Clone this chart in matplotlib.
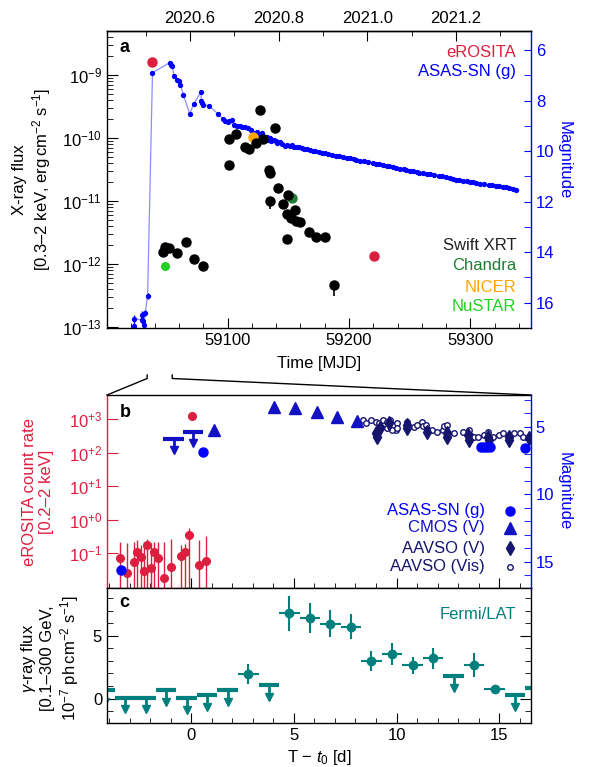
import numpy as np
import matplotlib.pyplot as plt
from matplotlib.lines import Line2D
from matplotlib.ticker import (MultipleLocator, FixedLocator, NullLocator,
                               LogLocator, NullFormatter, FormatStrFormatter)

plt.rcParams['font.family'] = ['Liberation Sans', 'DejaVu Sans']
plt.rcParams['mathtext.fontset'] = 'custom'
plt.rcParams['mathtext.rm'] = 'Liberation Sans'
plt.rcParams['mathtext.it'] = 'Liberation Sans:italic'
plt.rcParams['mathtext.bf'] = 'Liberation Sans:bold'
plt.rcParams['font.size'] = 12
plt.rcParams['axes.linewidth'] = 1.0

RED = '#dc1f3f'
BLUE = '#0000ff'
CMOS_C = '#1212c4'
NAVY = '#15156e'
TEAL = '#007f7f'
DARK = '#222222'

# ---------------- panel a data ----------------
swift_mjd = [59046.7, 59048.7, 59051.4, 59058.6, 59065.4, 59072.6, 59079.7,
             59101.0, 59101.0, 59107.0, 59114.5, 59117.5, 59123.6, 59126.3,
             59129.0, 59134.0, 59135.0, 59135.0, 59139.0, 59141.4, 59145.8,
             59148.8, 59149.0, 59149.6, 59152.4, 59155.7, 59156.5, 59160.0,
             59166.7, 59173.0, 59180.4, 59187.5]
swift_flux = [1.55e-12, 1.84e-12, 1.80e-12, 1.50e-12, 2.2e-12, 1.18e-12, 9.3e-13,
              9.6e-11, 3.7e-11, 1.17e-10, 7.1e-11, 6.6e-11, 8.2e-11, 2.75e-10,
              9.6e-11, 3.1e-11, 2.8e-11, 1.0e-11, 1.46e-10, 1.58e-11, 8.9e-12,
              2.5e-12, 6.3e-12, 1.26e-11, 5.3e-12, 7.1e-12, 4.8e-12, 4.6e-12,
              3.25e-12, 2.7e-12, 2.65e-12, 4.6e-13]
swift_err_lo = [0, 0, 0, 0, 0, 0, 0, 0, 0, 0, 0, 0, 0, 0, 0, 0, 0, 2.6e-12,
                0, 0, 0, 0, 0, 0, 0, 0, 0, 0, 0, 0, 0, 1.5e-13]

chandra_mjd, chandra_flux = [59153.0], [1.12e-11]
nicer_mjd, nicer_flux = [59121.0], [1.02e-10]
nustar_mjd, nustar_flux = [59048.0], [9.3e-13]
erosita_mjd, erosita_flux = [59038.0, 59220.4], [1.63e-9, 1.32e-12]

asas_pre_mjd = [59023.0, 59023.0, 59029.0, 59029.2, 59030.3, 59031.0, 59032.0, 59034.0]
asas_pre_mag = [16.94, 16.65, 16.67, 16.47, 16.74, 16.87, 16.41, 15.72]
asas_pre_err = [0.15, 0.15, 0.15, 0.15, 0.12, 0.12, 0.12, 0.12]

asas_mjd = [59038.0, 59052.3, 59053.0, 59054.0, 59056.0, 59058.5, 59059.5, 59061.0,
            59063.5, 59068.7, 59072.0, 59078.0, 59078.2, 59079.0, 59080.0, 59084.6,
            59092.0, 59096.0, 59098.0, 59100.0, 59101.0, 59103.5, 59105.0, 59107.7,
            59110.0, 59112.0, 59114.0, 59117.0, 59119.5, 59122.0, 59124.0, 59126.0,
            59128.0, 59130.0, 59132.0, 59133.0, 59135.0, 59136.0, 59138.0, 59140.0,
            59141.0, 59143.0, 59145.0, 59147.0, 59149.0, 59151.0, 59153.0, 59155.0,
            59157.0, 59159.0, 59161.0, 59163.0, 59165.0, 59168.0, 59170.0, 59172.0,
            59175.0, 59178.0, 59180.0, 59183.0, 59186.0, 59189.0, 59192.0, 59195.0,
            59198.0, 59201.0, 59204.0, 59206.0, 59209.0, 59212.0, 59216.0, 59219.6,
            59222.0, 59225.0, 59228.0, 59231.0, 59233.0, 59236.0, 59239.0, 59242.0,
            59245.0, 59247.0, 59250.0, 59253.0, 59256.0, 59258.0, 59260.7, 59264.0,
            59267.0, 59270.0, 59274.5, 59277.0, 59280.0, 59283.0, 59286.0, 59288.0,
            59291.0, 59294.0, 59297.0, 59300.0, 59302.0, 59305.0, 59308.0, 59311.0,
            59315.6, 59318.0, 59321.0, 59324.0, 59327.0, 59329.0, 59332.0, 59335.0,
            59337.6]
asas_mag = [6.90, 6.50, 6.58, 6.63, 7.03, 7.18, 7.24, 7.38,
            7.78, 8.53, 8.13, 7.66, 8.00, 8.10, 8.17, 8.21,
            8.53, 8.72, 8.80, 8.86, 8.82, 8.77, 8.95, 9.00,
            9.02, 9.05, 9.06, 9.10, 9.16, 9.28, 9.24, 9.32,
            9.30, 9.45, 9.43, 9.55, 9.50, 9.60, 9.55, 9.62,
            9.70, 9.66, 9.72, 9.78, 9.75, 9.79, 9.76, 9.85,
            9.83, 9.82, 9.86, 9.90, 9.92, 9.97, 10.00, 9.99,
            10.03, 10.06, 10.07, 10.11, 10.15, 10.18, 10.21, 10.24,
            10.27, 10.29, 10.32, 10.35, 10.38, 10.40, 10.44, 10.48,
            10.50, 10.52, 10.57, 10.59, 10.61, 10.63, 10.66, 10.69,
            10.71, 10.74, 10.77, 10.79, 10.82, 10.85, 10.87, 10.89,
            10.91, 10.94, 10.98, 11.00, 11.04, 11.07, 11.10, 11.14,
            11.15, 11.18, 11.20, 11.22, 11.24, 11.27, 11.29, 11.31,
            11.34, 11.36, 11.38, 11.40, 11.42, 11.43, 11.47, 11.52,
            11.56]

# ---------------- panel b data ----------------
t0_mjd = 59037.7
ero_t = [-3.46, -3.13, -2.78, -2.65, -2.44, -2.29, -2.13, -1.95, -1.80, -1.62,
         -1.30, -0.97, -0.49, -0.28, -0.13, 0.36, 0.70]
ero_rate = [0.074, 0.025, 0.056, 0.107, 0.079, 0.030, 0.17, 0.036, 0.11, 0.074,
            0.018, 0.038, 0.083, 0.105, 0.355, 0.043, 0.059]
ero_top = [0.22, 0.20, 0.21, 0.24, 0.18, 0.22, 0.26, 0.20, 0.21, 0.22,
           0.22, 0.26, 0.18, 0.19, 0.55, 0.25, 0.32]
ero_flash_t, ero_flash_rate = [0.03], [1260.0]

asas_b_t = [-3.43, 0.57, 14.10, 14.25, 14.40, 14.55, 16.24]
asas_b_mag = [15.6, 6.85, 6.52, 6.50, 6.50, 6.52, 6.55]
asas_ul_t = [-0.86, 0.08]
asas_ul_mag = [5.91, 5.37]

cmos_t = [1.12, 4.04, 5.05, 6.12, 7.10, 8.07]
cmos_mag = [5.27, 3.56, 3.64, 3.89, 4.26, 4.56]

aavso_v_t = [9.01, 9.05, 9.20, 9.61, 10.50, 10.50, 11.48, 12.45, 12.47, 13.48,
             13.55, 14.48, 14.50, 15.46, 15.48, 16.43]
aavso_v_mag = [5.44, 5.74, 5.12, 4.75, 4.87, 5.12, 5.37, 5.49, 5.74, 5.62,
               5.99, 5.74, 5.99, 5.74, 5.95, 5.86]

vis_t = [8.39, 8.52, 8.75, 9.01, 9.17, 9.34, 9.53, 9.69, 9.82, 10.02, 9.99, 9.77,
         9.53, 10.51, 10.83, 11.02, 11.24, 11.29, 11.45, 11.48, 11.72, 11.97,
         12.26, 12.29, 12.45, 12.53, 12.78, 13.26, 13.51, 13.59, 13.75, 13.99,
         14.24, 14.48, 14.48, 14.72, 14.97, 15.21, 15.46, 15.70, 16.03, 16.16,
         16.43, 10.02, 9.25]
vis_mag = [4.50, 4.75, 4.50, 4.63, 4.75, 4.50, 4.63, 4.50, 4.87, 4.70, 5.24, 5.24,
           5.12, 4.63, 5.00, 4.87, 4.63, 4.95, 4.87, 5.19, 5.24, 5.37,
           5.24, 4.95, 4.87, 5.49, 5.49, 5.37, 5.24, 5.62, 5.74, 5.74,
           5.62, 5.37, 5.74, 5.74, 5.62, 5.49, 5.62, 5.49, 5.49, 5.74,
           5.74, 5.12, 5.00]

# ---------------- panel c data ----------------
fermi_t = [-4.22, -3.22, -2.22, -1.22, -0.22, 0.78, 1.78, 2.78, 3.78, 4.78, 5.78,
           6.78, 7.78, 8.78, 9.78, 10.78, 11.78, 12.78, 13.78, 14.78, 15.78, 16.78]
fermi_flux = [0.71, 0.08, 0.08, 0.71, 0.05, 0.26, 0.66, 1.97, 1.05, 6.79, 6.39,
              5.97, 5.73, 3.00, 3.55, 2.63, 3.21, 1.79, 2.68, 0.76, 0.26, 0.87]
fermi_err = [0, 0, 0, 0, 0, 0, 0, 0.8, 0, 1.38, 1.2,
             1.05, 1.0, 0.8, 0.9, 0.7, 0.85, 0, 0.95, 0.3, 0, 0]
fermi_ul = [1, 1, 1, 1, 1, 1, 1, 0, 1, 0, 0,
            0, 0, 0, 0, 0, 0, 1, 0, 0, 1, 1]


W, H = 590, 767
fig = plt.figure(figsize=(W / 100, H / 100), dpi=100)
ax_a = fig.add_axes([107 / W, 1 - 328 / H, 424 / W, 297 / H])
ax_b = fig.add_axes([107 / W, 1 - 588 / H, 424 / W, 193 / H])
ax_c = fig.add_axes([107 / W, 1 - 723 / H, 424 / W, 135 / H], sharex=ax_b)

# ================= panel a =================
ax_a2 = ax_a.twinx()
ax_a.set_zorder(ax_a2.get_zorder() + 1)
ax_a.patch.set_visible(False)

ax_a.set_yscale('log')
ax_a.set_xlim(59000.5, 59350)
ax_a.set_ylim(9.64e-14, 5.0e-9)
ax_a2.set_ylim(17.0, 5.25)

line_mjd = asas_pre_mjd + asas_mjd
line_mag = asas_pre_mag + asas_mag
ax_a2.plot(line_mjd, line_mag, '-', color='#4040ff', alpha=0.6, lw=0.9)
ax_a2.errorbar(asas_pre_mjd, asas_pre_mag, yerr=asas_pre_err, fmt='o', ms=2.8,
               color=BLUE, elinewidth=1, capsize=0)
ax_a2.plot(asas_mjd, asas_mag, 'o', ms=2.8, color=BLUE)

swift_err = [swift_err_lo, [0] * len(swift_err_lo)]
ax_a.errorbar(swift_mjd, swift_flux, yerr=swift_err, fmt='o', ms=6.5,
              color='black', elinewidth=1.2, capsize=0)
ax_a.plot(chandra_mjd, chandra_flux, 'o', ms=6.5, color='#1e7e34')
ax_a.plot(nicer_mjd, nicer_flux, 'o', ms=6.5, color='#ffa500')
ax_a.plot(nustar_mjd, nustar_flux, 'o', ms=5.5, color='#22d022')
ax_a.plot(erosita_mjd, erosita_flux, 'o', ms=6.5, color=RED)

ax_a.xaxis.set_major_locator(MultipleLocator(100))
ax_a.xaxis.set_minor_locator(MultipleLocator(20))
ax_a.yaxis.set_minor_locator(LogLocator(base=10, subs=np.arange(2, 10)))
ax_a.yaxis.set_minor_formatter(NullFormatter())
ax_a.tick_params(axis='x', which='major', direction='in', length=7, top=False)
ax_a.tick_params(axis='x', which='minor', direction='in', length=3.5, top=False)
ax_a.tick_params(axis='y', which='major', direction='in', length=8, right=False)
ax_a.tick_params(axis='y', which='minor', direction='in', length=4.5, right=False)
ax_a.set_xlabel('Time [MJD]', labelpad=6)
ax_a.set_ylabel('X-ray flux\n[0.3–2 keV, erg$\\,$cm$^{-2}$ s$^{-1}$]', linespacing=1.2)
ax_a.yaxis.set_label_coords(-0.127, 0.5)

ax_a2.yaxis.set_major_locator(MultipleLocator(2))
ax_a2.yaxis.set_minor_locator(MultipleLocator(1))
ax_a2.tick_params(axis='y', which='both', direction='in', colors=BLUE, length=5)
ax_a2.set_ylabel('Magnitude', rotation=270, va='bottom', color=BLUE)
ax_a2.yaxis.set_label_coords(1.06, 0.565)
for s in ['left', 'top', 'bottom']:
    ax_a2.spines[s].set_visible(False)
ax_a2.spines['right'].set_color(BLUE)
ax_a.spines['right'].set_visible(False)


def mjd2yr(m):
    return 2021.0 + (np.asarray(m) - 59215.0) / 365.25


def yr2mjd(y):
    return 59215.0 + (np.asarray(y) - 2021.0) * 365.25


sec = ax_a.secondary_xaxis('top', functions=(mjd2yr, yr2mjd))
sec.xaxis.set_major_locator(MultipleLocator(0.2))
sec.xaxis.set_minor_locator(MultipleLocator(0.1))
sec.xaxis.set_major_formatter(FormatStrFormatter('%.1f'))
sec.tick_params(which='major', direction='in', length=7)
sec.tick_params(which='minor', direction='in', length=3.5)

ax_a.text(0.03, 0.946, 'a', transform=ax_a.transAxes, fontsize=13,
          fontweight='bold', va='center', ha='left')
ax_a.text(0.965, 0.929, 'eROSITA', color=RED, transform=ax_a.transAxes,
          ha='right', va='center')
ax_a.text(0.965, 0.862, 'ASAS-SN (g)', color=BLUE, transform=ax_a.transAxes,
          ha='right', va='center')
for lab, col, yy in [('Swift XRT', DARK, 0.279), ('Chandra', '#1e7e34', 0.209),
                     ('NICER', '#ffa500', 0.138), ('NuSTAR', '#22d022', 0.071)]:
    ax_a.text(0.965, yy, lab, color=col, transform=ax_a.transAxes,
              ha='right', va='center')

# ================= panel b =================
xlim_b = (-4.1, 16.55)
ax_b.set_xlim(*xlim_b)
ax_b.set_yscale('log')
ax_b.set_ylim(0.0091, 5370)
ax_b2 = ax_b.twinx()
ax_b2.set_ylim(16.95, 2.65)

rate = np.array(ero_rate)
yerr_b = [rate - 0.001, np.array(ero_top) - rate]
ax_b.errorbar(ero_t, ero_rate, yerr=yerr_b, fmt='o', ms=5.5, color=RED,
              elinewidth=1, capsize=0)
ax_b.plot(ero_flash_t, ero_flash_rate, 'o', ms=5.5, color=RED)

ax_b.yaxis.set_major_locator(FixedLocator([0.1, 1, 10, 100, 1000]))
ax_b.yaxis.set_minor_locator(NullLocator())
ax_b.set_yticklabels(['$10^{-1}$', '$10^{+0}$', '$10^{+1}$', '$10^{+2}$', '$10^{+3}$'])
ax_b.tick_params(axis='y', direction='in', colors=RED, length=8, right=False)
ax_b.tick_params(axis='x', which='major', direction='in', length=7, top=False,
                 labelbottom=False)
ax_b.tick_params(axis='x', which='minor', direction='in', length=3.5, top=False)
ax_b.set_ylabel('eROSITA count rate\n[0.2–2 keV]', color=RED, linespacing=1.2)
ax_b.yaxis.set_label_coords(-0.125, 0.5)
ax_b.spines['left'].set_color(RED)
ax_b.spines['right'].set_visible(False)

# upper limits (ASAS-SN)
ax_b2.errorbar(asas_ul_t, asas_ul_mag, xerr=0.5, fmt='none', ecolor=CMOS_C,
               elinewidth=3, capsize=0)
ax_b2.vlines(asas_ul_t, asas_ul_mag, np.array(asas_ul_mag) + 0.75, color=CMOS_C, lw=2)
ax_b2.plot(asas_ul_t, np.array(asas_ul_mag) + 0.8, 'v', ms=5.5, color=CMOS_C)

ax_b2.plot(vis_t, vis_mag, 'o', ms=4, mfc='white', mec=NAVY, mew=1)
ax_b2.plot(aavso_v_t, aavso_v_mag, 'd', ms=7.5, color=NAVY)
ax_b2.plot(cmos_t, cmos_mag, '^', ms=9, color=CMOS_C)
ax_b2.plot(asas_b_t, asas_b_mag, 'o', ms=6.5, color=BLUE)

ax_b2.yaxis.set_major_locator(MultipleLocator(5))
ax_b2.yaxis.set_minor_locator(MultipleLocator(1))
ax_b2.tick_params(axis='y', which='both', direction='in', colors=BLUE, length=5)
ax_b2.set_ylabel('Magnitude', rotation=270, va='bottom', color=BLUE)
ax_b2.yaxis.set_label_coords(1.06, 0.5)
for s in ['left', 'top', 'bottom']:
    ax_b2.spines[s].set_visible(False)
ax_b2.spines['right'].set_color(BLUE)

ax_b.text(0.03, 0.907, 'b', transform=ax_b.transAxes, fontsize=13,
          fontweight='bold', va='center', ha='left')
leg_b = [('ASAS-SN (g)', BLUE, 'o', 6.5, BLUE, 0.400),
         ('CMOS (V)', CMOS_C, '^', 9, CMOS_C, 0.311),
         ('AAVSO (V)', NAVY, 'd', 7.5, NAVY, 0.207),
         ('AAVSO (Vis)', NAVY, 'o', 4, 'white', 0.110)]
for lab, col, mk, ms, fc, yy in leg_b:
    ax_b.text(0.892, yy, lab, color=col, transform=ax_b.transAxes,
              ha='right', va='center')
    ax_b.plot([0.95], [yy], marker=mk, ms=ms, mfc=fc, mec=col, color=col,
              transform=ax_b.transAxes, clip_on=False)

# ================= panel c =================
ax_c.set_ylim(-1.95, 8.8)
ft = np.array(fermi_t)
ff = np.array(fermi_flux)
fe = np.array(fermi_err)
ul = np.array(fermi_ul) == 1
det = ~ul
ax_c.errorbar(ft[det], ff[det], xerr=0.5, yerr=fe[det], fmt='o', ms=6,
              color=TEAL, elinewidth=1.5, capsize=0)
ax_c.errorbar(ft[ul], ff[ul], xerr=0.5, fmt='none', ecolor=TEAL,
              elinewidth=3, capsize=0)
ax_c.vlines(ft[ul], ff[ul], ff[ul] - 0.9, color=TEAL, lw=2)
ax_c.plot(ft[ul], ff[ul] - 0.95, 'v', ms=5.5, color=TEAL)

ax_c.xaxis.set_major_locator(MultipleLocator(5))
ax_c.xaxis.set_minor_locator(MultipleLocator(1))
ax_c.yaxis.set_major_locator(FixedLocator([0, 5]))
ax_c.yaxis.set_minor_locator(MultipleLocator(1))
ax_c.tick_params(axis='x', which='major', direction='in', length=7, top=False)
ax_c.tick_params(axis='x', which='minor', direction='in', length=3.5, top=False)
ax_c.tick_params(axis='y', which='major', direction='in', length=8, right=True)
ax_c.tick_params(axis='y', which='minor', direction='in', length=4.5, right=True)
ax_c.set_xlabel('T − $t_0$ [d]', labelpad=4)
ax_c.set_ylabel('$\\gamma$-ray flux\n[0.1–300 GeV,\n10$^{-7}$ ph$\\,$cm$^{-2}$ s$^{-1}$]',
                linespacing=1.15)
ax_c.yaxis.set_label_coords(-0.062, 0.48)
ax_c.text(0.03, 0.889, 'c', transform=ax_c.transAxes, fontsize=13,
          fontweight='bold', va='center', ha='left')
ax_c.text(0.965, 0.807, 'Fermi/LAT', color=TEAL, transform=ax_c.transAxes,
          ha='right', va='center')

# ================= zoom bracket between a and b =================
inv = fig.transFigure.inverted()
lo_mjd = t0_mjd + xlim_b[0]
hi_mjd = t0_mjd + xlim_b[1]
x_lo = inv.transform(ax_a.transData.transform((lo_mjd, 1e-12)))[0]
x_hi = inv.transform(ax_a.transData.transform((hi_mjd, 1e-12)))[0]
y_top = 1 - 375 / H
y_mid = 1 - 378.5 / H
pb = ax_b.get_position()
for xs, ys in [([x_lo, x_lo, pb.x0], [y_top, y_mid, pb.y1]),
               ([x_hi, x_hi, pb.x1], [y_top, y_mid, pb.y1])]:
    fig.add_artist(Line2D(xs, ys, transform=fig.transFigure, color='black', lw=1))

fig.savefig('out.png', dpi=100)
